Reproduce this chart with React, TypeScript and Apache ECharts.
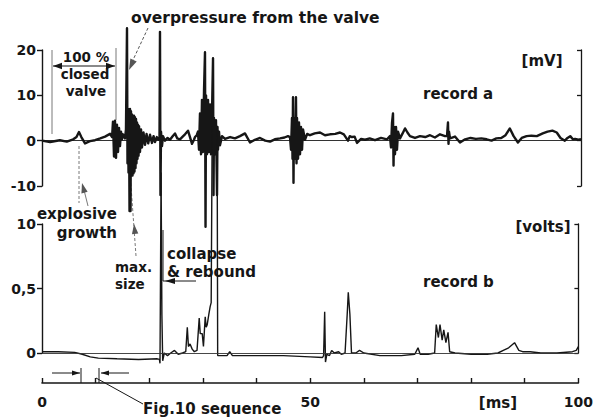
import React, { useEffect, useRef } from "react";
import * as echarts from "echarts";

// record a: time [ms], signal [mV]
const recordA: [number, number][] = [
  [0.0, 0.0], [1.5, -0.3], [3.3, 0.1], [4.6, -0.2], [5.8, 0.3], [6.4, 0.8], [6.86, 1.9], [7.3, 0.8],
  [7.98, -0.6], [8.9, -0.1], [9.83, 0.1], [10.8, 0.5], [11.7, 0.9], [12.62, 1.5], [13.0, 0.8],
  [13.17, 4.2], [13.36, -3.5], [13.54, 4.4], [13.73, -3.8], [13.91, 3.5], [14.1, -2.5], [14.29, 2.8],
  [14.47, -1.2], [14.66, 2.0], [14.84, 0.3], [15.03, 1.4], [15.4, 0.5], [15.58, 2.5], [15.77, 24.8],
  [15.86, -5.0], [15.96, 7.0], [16.05, -7.0], [16.14, 6.8], [16.24, -15.5], [16.33, 7.0], [16.42, -15.5],
  [16.51, 6.5], [16.6, -7.5], [16.7, 5.8], [16.79, -7.7], [16.88, 5.5], [16.98, -7.2], [17.07, 5.5],
  [17.16, -6.8], [17.25, 5.2], [17.35, -6.0], [17.44, 4.8], [17.53, -5.0], [17.63, 4.0], [17.72, -4.0],
  [17.81, 3.5], [17.91, -3.3], [18.0, 3.2], [18.18, -2.5], [18.37, 2.5], [18.55, -1.5], [18.83, 1.8],
  [19.11, -0.9], [19.4, 1.5], [19.7, -0.6], [20.04, 1.3], [20.4, -0.5], [20.7, 1.0], [20.96, -0.3],
  [21.3, 0.8], [21.6, 0.2], [21.8, 0.6], [21.89, 24.0], [21.98, -12.0], [22.08, 2.0], [22.26, -1.2],
  [22.45, 1.0], [22.82, 0.0], [23.3, 0.6], [23.75, 0.2], [24.2, 0.9], [24.68, 1.6], [25.1, 0.5],
  [25.6, 0.3], [26.1, 0.9], [26.53, 1.4], [27.09, 2.2], [27.5, 0.6], [27.83, -0.7], [28.2, 0.2],
  [28.39, 0.8], [28.7, 1.2], [28.94, 2.0], [29.13, -2.0], [29.31, 6.0], [29.5, -3.0], [29.68, 9.0],
  [29.87, -2.5], [30.06, 11.0], [30.24, 19.5], [30.34, -19.0], [30.43, 10.0], [30.61, -3.0], [30.8, 9.0],
  [30.98, -2.5], [31.17, 8.0], [31.35, -3.0], [31.54, 6.0], [31.73, 18.2], [31.82, -12.0], [31.91, 5.0],
  [32.1, -3.0], [32.28, 4.5], [32.47, -12.0], [32.56, 3.0], [32.65, -2.0], [32.84, 2.0], [33.02, -1.0],
  [33.4, 1.0], [33.95, 0.4], [34.9, 0.8], [35.8, 0.5], [36.73, 1.0], [37.66, 1.6], [38.59, -0.4],
  [39.5, 0.2], [40.45, 0.6], [41.4, 0.0], [42.3, -0.2], [43.2, 0.3], [44.16, 0.5], [45.0, 0.7],
  [45.64, 1.0], [46.01, 0.8], [46.2, -2.0], [46.38, 5.0], [46.48, -4.0], [46.57, 9.6], [46.66, -9.3],
  [46.75, 5.0], [46.94, -4.0], [47.12, 9.6], [47.22, -5.0], [47.31, 5.0], [47.5, -4.0], [47.68, 4.0],
  [47.87, -3.0], [48.05, 3.0], [48.24, -2.0], [48.42, 2.5], [48.79, 0.2], [49.2, 1.5], [49.72, 1.2],
  [50.6, 1.6], [51.58, 1.8], [52.5, 1.2], [53.43, 1.4], [54.4, 1.5], [55.29, 1.8], [56.0, 1.4],
  [56.77, 0.0], [57.1, 1.0], [57.51, 0.8], [58.0, 0.9], [58.44, -0.5], [59.2, 0.4], [59.93, 0.2],
  [60.8, 0.5], [61.78, 0.1], [62.9, 0.6], [64.01, 0.3], [64.56, 1.0], [64.75, -1.5], [64.94, 4.0],
  [65.12, 6.0], [65.22, -5.5], [65.31, 3.0], [65.49, -3.0], [65.68, 3.0], [65.86, -2.0], [66.05, 2.0],
  [66.42, 0.5], [66.9, 1.6], [67.35, 2.7], [67.8, 1.8], [68.27, 1.0], [69.2, 0.6], [70.13, 1.0],
  [71.1, 0.8], [71.99, 1.2], [72.9, 0.7], [73.84, 1.4], [74.77, 1.0], [75.14, 1.0], [75.32, 4.0],
  [75.42, -0.7], [75.51, 2.0], [75.7, 0.5], [76.62, 0.9], [77.55, -0.4], [78.5, 0.3], [79.5, 0.6],
  [80.5, 0.4], [81.5, 0.5], [82.5, 0.3], [83.4, 0.0], [84.3, 0.5], [85.2, 0.6], [86.0, 1.2],
  [86.8, 2.7], [87.5, 1.0], [88.3, -0.4], [89.0, 0.6], [89.9, 1.0], [90.8, 1.1], [91.8, 1.0],
  [92.9, 1.6], [93.8, 2.0], [94.7, 2.2], [95.5, 1.8], [96.2, 0.6], [97.0, 0.0], [97.5, 0.6],
  [98.0, 1.0], [98.5, 0.3], [98.9, 0.4], [99.5, 0.2], [100.0, 0.3],
];

// record b: time [ms], signal [volts]
const recordB: [number, number][] = [
  [0.0, 0.01], [3.0, 0.01], [6.1, 0.005], [7.5, -0.01], [9.0, -0.03], [10.5, -0.04], [14.0, -0.045],
  [18.0, -0.05], [21.5, -0.045], [21.89, -0.05], [22.0, -0.08], [22.2, 1.4], [22.35, 0.3], [22.5, -0.06],
  [22.8, 0.0], [23.4, -0.02], [24.0, 0.0], [24.7, 0.02], [25.4, -0.01], [26.2, 0.0], [26.8, 0.01],
  [27.09, 0.2], [27.3, 0.05], [27.6, 0.07], [28.0, 0.03], [28.4, 0.01], [28.9, 0.02], [29.31, 0.27],
  [29.5, 0.15], [29.87, 0.15], [30.1, 0.05], [30.43, 0.28], [30.61, 0.2], [30.8, 0.22], [31.1, 0.3],
  [31.35, 0.36], [31.54, 0.39], [31.73, 1.75], [32.65, 1.75], [32.75, -0.02], [33.5, -0.02],
  [34.5, -0.02], [35.0, 0.01], [35.5, -0.02], [38.0, -0.02], [45.0, -0.02], [50.0, -0.03],
  [52.3, -0.035], [52.5, -0.02], [52.7, 0.32], [52.85, -0.07], [53.1, -0.01], [53.6, -0.02],
  [54.0, 0.02], [54.5, 0.0], [55.3, 0.01], [55.8, -0.01], [56.5, 0.0], [56.9, 0.3], [57.1, 0.47],
  [57.4, 0.3], [57.7, 0.0], [58.5, 0.0], [59.2, 0.02], [60.0, 0.0], [63.0, -0.02], [67.0, -0.02],
  [69.5, -0.01], [70.1, 0.04], [70.5, -0.01], [72.0, -0.01], [73.2, 0.0], [73.5, 0.22], [73.9, 0.12],
  [74.2, 0.22], [74.6, 0.1], [74.9, 0.18], [75.3, 0.08], [75.7, 0.16], [76.0, 0.01], [77.0, 0.0],
  [80.0, -0.01], [83.0, -0.01], [85.0, 0.0], [86.0, 0.02], [87.0, 0.04], [88.1, 0.08], [88.9, 0.02],
  [89.6, 0.01], [91.0, 0.01], [93.0, 0.0], [96.0, 0.0], [98.9, 0.01], [99.6, 0.02], [100.0, 0.05],
];

const xLabelValues = [0, 50, 100];
const topTickLabels: Record<string, string> = { "-10": "-10", "0": "0", "10": "10", "20": "20" };
const bottomTickLabels: Record<string, string> = { "0": "0", "0.5": "0,5", "1": "10" };

const ink = "#161616";
const gray = "#555";
const FONT = '"DejaVu Sans", sans-serif';

function txt(text: string, x: number, y: number, align = "left", size = 15) {
  return {
    type: "text",
    x,
    y,
    silent: true,
    style: {
      text,
      fill: ink,
      fontFamily: FONT,
      fontWeight: "bold",
      fontSize: size,
      textAlign: align,
      align,
      textVerticalAlign: "middle",
      verticalAlign: "middle",
    },
  };
}

function seg(x1: number, y1: number, x2: number, y2: number, color = ink, width = 1, dash?: number[]) {
  return {
    type: "line",
    silent: true,
    shape: { x1, y1, x2, y2 },
    style: { stroke: color, lineWidth: width, lineDash: dash },
  };
}

function head(x1: number, y1: number, x2: number, y2: number, color = ink, len = 9, half = 3.2) {
  const dx = x2 - x1;
  const dy = y2 - y1;
  const d = Math.hypot(dx, dy);
  const ux = dx / d;
  const uy = dy / d;
  const bx = x2 - ux * len;
  const by = y2 - uy * len;
  return {
    type: "polygon",
    silent: true,
    shape: {
      points: [
        [x2, y2],
        [bx - uy * half, by + ux * half],
        [bx + uy * half, by - ux * half],
      ],
    },
    style: { fill: color },
  };
}

export default function App() {
  const ref = useRef<HTMLDivElement>(null);

  useEffect(() => {
    if (!ref.current) return;
    const chart = echarts.init(ref.current, null, { renderer: "svg" });

    const labelStyle = {
      fontFamily: FONT,
      fontWeight: "bold",
      fontSize: 14,
      color: ink,
    };

    const graphics: any[] = [
      // overpressure from the valve
      txt("overpressure from the valve", 131, 18, "left", 15.5),
      seg(148, 28, 133, 60, gray, 1, [3, 2]),
      head(148, 28, 129, 70, gray, 11, 3.5),
      // 100 % closed valve
      txt("100 %", 86, 57, "center", 13.5),
      txt("closed", 85, 74, "center", 13.5),
      txt("valve", 86, 91, "center", 13.5),
      seg(53, 66, 115, 66, ink, 1.2),
      head(115, 66, 53, 66),
      head(53, 66, 115, 66),
      seg(52, 50, 52, 134, gray, 0.8),
      seg(116, 48, 116, 120, gray, 0.8),
      // units / record labels
      txt("[mV]", 542, 61, "center", 15),
      txt("record a", 423, 94),
      txt("[volts]", 543, 227, "center", 15),
      txt("record b", 423, 282),
      // explosive growth
      txt("explosive", 117, 214, "right"),
      txt("growth", 117, 233, "right"),
      seg(79, 146, 79, 203, gray, 0.8, [3, 2]),
      seg(88, 206, 84, 190, gray, 0.8),
      head(88, 206, 82, 183, gray, 10, 3.2),
      // max. size
      txt("max.", 115, 267, "left", 13.5),
      txt("size", 115, 284, "left", 13.5),
      seg(136, 256, 130, 172, gray, 0.8, [3, 2]),
      head(137, 250, 134, 224, gray, 10, 3.2),
      // collapse & rebound
      txt("collapse", 167, 254),
      txt("& rebound", 167, 272),
      seg(163, 230, 163, 281, ink, 1),
      seg(163, 281, 196, 281, ink, 1),
      head(196, 281, 165, 281, ink, 10, 3),
      // Fig.10 sequence
      txt("Fig.10 sequence", 143, 409),
      seg(143, 404, 96, 378, ink, 1),
      seg(52, 373, 80, 373, ink, 1),
      head(52, 373, 80, 373, ink, 8, 2.6),
      seg(81, 368, 81, 383, ink, 1),
      seg(99, 368, 99, 383, ink, 1),
      seg(129, 373, 101, 373, ink, 1),
      head(129, 373, 101, 373, ink, 8, 2.6),
      // [ms]
      txt("[ms]", 498, 403, "center", 15),
    ];

    chart.setOption({
      animation: false,
      backgroundColor: "#ffffff",
      grid: [
        { left: 42, right: 15, top: 50, height: 136 },
        { left: 42, right: 15, top: 224, height: 129 },
      ],
      xAxis: [
        {
          gridIndex: 0,
          type: "value",
          min: 0,
          max: 100,
          axisLine: { show: true, onZero: true, lineStyle: { color: "#333", width: 1 } },
          axisTick: { show: false },
          axisLabel: { show: false },
          splitLine: { show: false },
        },
        {
          gridIndex: 1,
          type: "value",
          min: 0,
          max: 100,
          interval: 10,
          position: "bottom",
          offset: 30,
          axisLine: { show: true, onZero: false, lineStyle: { color: ink, width: 1.6 } },
          axisTick: { show: true, inside: true, length: 5, lineStyle: { color: ink, width: 1.4 } },
          axisLabel: {
            ...labelStyle,
            margin: 12,
            formatter: (v: number) => (xLabelValues.includes(v) ? String(v) : ""),
          },
          splitLine: { show: false },
        },
      ],
      yAxis: [
        {
          gridIndex: 0,
          type: "value",
          min: -10,
          max: 20,
          interval: 10,
          position: "left",
          axisLine: { show: true, onZero: false, lineStyle: { color: ink, width: 1.4 } },
          axisTick: { show: true, length: 5, lineStyle: { color: ink, width: 1.4 } },
          axisLabel: { ...labelStyle, margin: 6, formatter: (v: number) => topTickLabels[String(v)] ?? "" },
          splitLine: { show: false },
        },
        {
          gridIndex: 0,
          type: "value",
          min: -10,
          max: 20,
          interval: 10,
          position: "right",
          axisLine: { show: true, onZero: false, lineStyle: { color: ink, width: 1.3 } },
          axisTick: { show: true, inside: true, length: 4, lineStyle: { color: ink, width: 1.3 } },
          axisLabel: { show: false },
          splitLine: { show: false },
        },
        {
          gridIndex: 1,
          type: "value",
          min: 0,
          max: 1,
          interval: 0.5,
          position: "left",
          axisLine: { show: true, onZero: false, lineStyle: { color: ink, width: 1.4 } },
          axisTick: { show: true, length: 5, lineStyle: { color: ink, width: 1.4 } },
          axisLabel: { ...labelStyle, margin: 6, formatter: (v: number) => bottomTickLabels[String(v)] ?? "" },
          splitLine: { show: false },
        },
        {
          gridIndex: 1,
          type: "value",
          min: 0,
          max: 1,
          interval: 0.5,
          position: "right",
          axisLine: { show: true, onZero: false, lineStyle: { color: ink, width: 1.3 } },
          axisTick: { show: true, inside: true, length: 4, lineStyle: { color: ink, width: 1.3 } },
          axisLabel: { show: false },
          splitLine: { show: false },
        },
      ],
      series: [
        {
          name: "record a",
          type: "line",
          xAxisIndex: 0,
          yAxisIndex: 0,
          data: recordA,
          showSymbol: false,
          symbol: "none",
          clip: false,
          lineStyle: { color: ink, width: 2.4, join: "round" },
          silent: true,
        },
        {
          name: "record b",
          type: "line",
          xAxisIndex: 1,
          yAxisIndex: 2,
          data: recordB,
          showSymbol: false,
          symbol: "none",
          clip: false,
          lineStyle: { color: ink, width: 1.4 },
          silent: true,
          markLine: {
            silent: true,
            symbol: "none",
            label: { show: false },
            lineStyle: { color: "#333", width: 0.9, type: "solid" },
            data: [{ yAxis: 0 }],
          },
        },
      ],
      graphic: graphics,
    });

    return () => chart.dispose();
  }, []);

  return <div ref={ref} style={{ width: 596, height: 418, position: "absolute", left: 0, top: 0 }} />;
}
